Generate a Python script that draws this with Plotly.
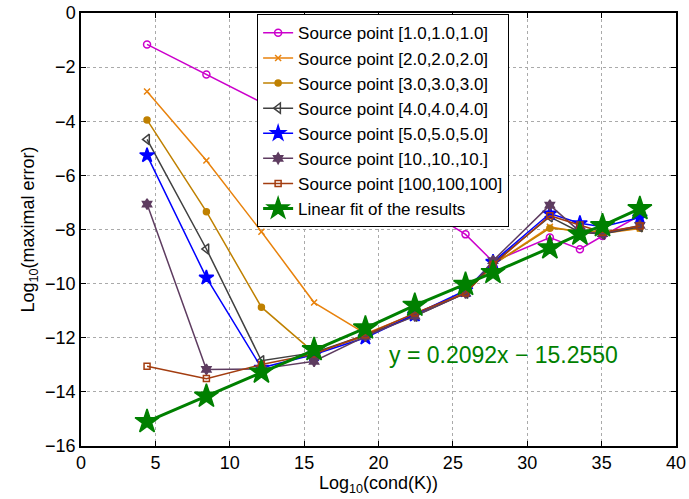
import plotly.graph_objects as go

x_vals = [4.44, 8.43, 12.13, 15.67, 19.12, 22.44, 25.85, 27.7, 31.52, 33.54, 35.06, 37.57]

src_1 = [-1.16, -2.27, -3.30, -4.58, -5.83, -7.02, -8.18, -9.19, -8.30, -8.73, -8.24, -7.49]
src_2 = [-2.90, -5.45, -8.08, -10.70, -11.85, -11.12, -10.30, -9.30, -7.90, -8.10, -8.15, -7.96]
src_3 = [-3.95, -7.34, -10.87, -12.55, -11.95, -11.15, -10.35, -9.30, -7.95, -8.05, -8.10, -7.95]
src_4 = [-4.67, -8.72, -12.85, -12.55, -11.90, -11.20, -10.35, -9.25, -7.53, -8.10, -8.17, -7.90]
src_5 = [-5.26, -9.78, -13.11, -12.62, -12.00, -11.15, -10.25, -9.20, -7.41, -7.77, -7.90, -7.56]
src_10 = [-7.06, -13.17, -13.15, -12.87, -11.95, -11.20, -10.35, -9.15, -7.10, -8.08, -8.15, -7.85]
src_100 = [-13.05, -13.51, -12.99, -12.60, -11.89, -11.09, -10.35, -9.30, -7.49, -7.83, -8.10, -7.87]
fit_vals = [-15.10, -14.16, -13.27, -12.44, -11.64, -10.80, -10.03, -9.59, -8.68, -8.17, -7.86, -7.23]

names = ["Source point [1.0,1.0,1.0]", "Source point [2.0,2.0,2.0]", "Source point [3.0,3.0,3.0]",
         "Source point [4.0,4.0,4.0]", "Source point [5.0,5.0,5.0]", "Source point [10.,10.,10.]",
         "Source point [100,100,100]", "Linear fit of the results"]
x_ticks = [0, 5, 10, 15, 20, 25, 30, 35, 40]
y_ticks = [-16, -14, -12, -10, -8, -6, -4, -2, 0]
fit_label = "y = 0.2092x \u2212 15.2550"

styles = [
    (src_1, "#CC00CC", "circle-open", 7, 1.5),
    (src_2, "#E8820C", "x-thin-open", 6, 1.5),
    (src_3, "#BF8000", "circle", 6, 1.5),
    (src_4, "#404040", "triangle-left-open", 9, 1.5),
    (src_5, "#0000FF", "star", 11, 1.5),
    (src_10, "#5E3C60", "hexagram", 8, 1.5),
    (src_100, "#A33D10", "square-open", 6, 1.5),
    (fit_vals, "#008000", "star", 18, 3),
]

fig = go.Figure()
for (vals, color, sym, size, lw), name in zip(styles, names):
    fig.add_trace(go.Scatter(
        x=x_vals, y=vals, mode="lines+markers", name=name,
        line=dict(color=color, width=lw),
        marker=dict(symbol=sym, size=size, color=color,
                    line=dict(color=color, width=1.5)),
    ))

axis_common = dict(
    showline=True, linecolor="black", linewidth=1.5, mirror="ticks",
    ticks="inside", ticklen=5, tickcolor="black",
    showgrid=True, gridcolor="#AAAAAA", griddash="dot", gridwidth=1,
    zeroline=False, tickfont=dict(size=18, color="black"), automargin=False,
)

fig.update_layout(
    width=689, height=499,
    paper_bgcolor="white", plot_bgcolor="white",
    font=dict(family="Liberation Sans, Arial, sans-serif", color="black"),
    margin=dict(l=81, r=13, t=13, b=53),
    xaxis=dict(range=[0, 40], tickvals=x_ticks,
               title=dict(text="Log<sub>10</sub>(cond(K))", font=dict(size=18), standoff=0),
               **axis_common),
    yaxis=dict(range=[-16, 0], tickvals=y_ticks,
               title=dict(text="Log<sub>10</sub>(maximal error)", font=dict(size=18), standoff=6),
               **axis_common),
    legend=dict(x=0.296, y=0.997, xanchor="left", yanchor="top",
                bgcolor="white", bordercolor="black", borderwidth=1,
                font=dict(size=17), tracegroupgap=0, itemwidth=30),
    showlegend=True,
)

fig.add_annotation(x=28.4, y=-12.65, text=fit_label, showarrow=False,
                   font=dict(size=23, color="#008000"), xanchor="center", yanchor="middle")

fig.write_html("out.html", config={"displayModeBar": False},
               post_script="document.body.style.margin='0px';document.body.style.overflow='hidden';")
